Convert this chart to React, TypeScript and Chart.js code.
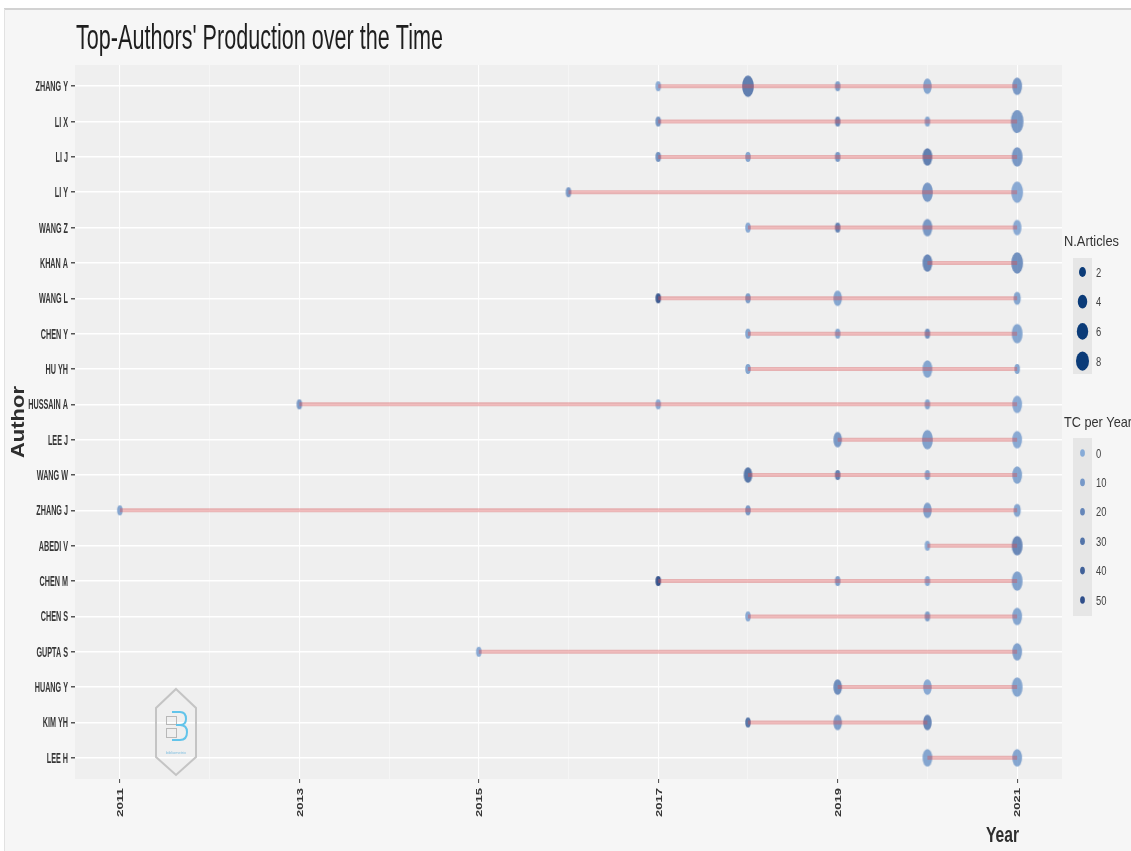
import React, { useEffect, useRef } from "react";
import { Chart, registerables } from "chart.js";

Chart.register(...registerables);

const authors = [
  "ZHANG Y", "LI X", "LI J", "LI Y", "WANG Z", "KHAN A", "WANG L", "CHEN Y", "HU YH", "HUSSAIN A",
  "LEE J", "WANG W", "ZHANG J", "ABEDI V", "CHEN M", "CHEN S", "GUPTA S", "HUANG Y", "KIM YH", "LEE H",
];

const years: number[][] = [
  [2017, 2018, 2019, 2020, 2021],
  [2017, 2019, 2020, 2021],
  [2017, 2018, 2019, 2020, 2021],
  [2016, 2020, 2021],
  [2018, 2019, 2020, 2021],
  [2020, 2021],
  [2017, 2018, 2019, 2021],
  [2018, 2019, 2020, 2021],
  [2018, 2020, 2021],
  [2013, 2017, 2020, 2021],
  [2019, 2020, 2021],
  [2018, 2019, 2020, 2021],
  [2011, 2018, 2020, 2021],
  [2020, 2021],
  [2017, 2019, 2020, 2021],
  [2018, 2020, 2021],
  [2015, 2021],
  [2019, 2020, 2021],
  [2018, 2019, 2020],
  [2020, 2021],
];

const articles: number[][] = [
  [1, 6, 1, 3, 4],
  [1, 1, 1, 7],
  [1, 1, 1, 4, 5],
  [1, 5, 6],
  [1, 1, 4, 3],
  [4, 6],
  [1, 1, 3, 2],
  [1, 1, 1, 5],
  [1, 4, 1],
  [1, 1, 1, 4],
  [3, 5, 4],
  [3, 1, 1, 4],
  [1, 1, 3, 2],
  [1, 5],
  [1, 1, 1, 5],
  [1, 1, 4],
  [1, 4],
  [3, 3, 5],
  [1, 3, 3],
  [4, 4],
];

const tcPerYear: number[][] = [
  [5, 30, 12, 8, 15],
  [18, 25, 8, 15],
  [20, 8, 15, 30, 15],
  [15, 15, 5],
  [5, 28, 15, 5],
  [25, 20],
  [52, 12, 8, 8],
  [8, 8, 20, 8],
  [8, 8, 8],
  [15, 5, 8, 5],
  [15, 10, 5],
  [35, 30, 8, 8],
  [8, 15, 10, 8],
  [5, 25],
  [55, 12, 5, 10],
  [5, 12, 8],
  [5, 10],
  [22, 5, 8],
  [35, 12, 25],
  [8, 8],
];

const xTickYears = [2011, 2012, 2013, 2014, 2015, 2016, 2017, 2018, 2019, 2020, 2021];
const sizeBreaks = [2, 4, 6, 8];
const tcBreaks = [0, 10, 20, 30, 40, 50];

const FONT = "'Liberation Sans', Arial, sans-serif";
const LOW = [118, 160, 212];
const HIGH = [4, 40, 112];

function tcColor(tc: number, alpha: number) {
  const t = Math.max(0, Math.min(1, tc / 55));
  const c = LOW.map((l, k) => Math.round(l + (HIGH[k] - l) * t));
  return `rgba(${c[0]},${c[1]},${c[2]},${alpha})`;
}

function ellipseH(n: number) {
  return Math.sqrt(28.5 + 71.5 * n);
}

function makeEllipse(h: number, w: number, color: string) {
  const c = document.createElement("canvas");
  c.width = Math.ceil(w) + 2;
  c.height = Math.ceil(h) + 2;
  const g = c.getContext("2d")!;
  g.fillStyle = color;
  g.beginPath();
  g.ellipse(c.width / 2, c.height / 2, w / 2, h / 2, 0, 0, Math.PI * 2);
  g.fill();
  return c;
}

function txt(
  ctx: CanvasRenderingContext2D,
  s: string,
  x: number,
  y: number,
  o: { cap: number; weight?: string; color: string; sx?: number; width?: number; align?: CanvasTextAlign; rot?: number }
) {
  ctx.save();
  const size = o.cap / 0.716;
  ctx.font = `${o.weight || "normal"} ${size}px ${FONT}`;
  let sx = o.sx ?? 1;
  if (o.width) sx = o.width / ctx.measureText(s).width;
  ctx.translate(x, y);
  if (o.rot) ctx.rotate(o.rot);
  ctx.scale(sx, 1);
  ctx.textAlign = o.align || "left";
  ctx.textBaseline = "alphabetic";
  ctx.fillStyle = o.color;
  ctx.fillText(s, 0, 0);
  ctx.restore();
}

const decorPlugin = {
  id: "decor",
  beforeDraw(chart: any) {
    const ctx = chart.ctx as CanvasRenderingContext2D;
    const { left, right, top, bottom } = chart.chartArea;
    ctx.save();
    ctx.fillStyle = "#ffffff";
    ctx.fillRect(0, 0, chart.width, chart.height);
    ctx.fillStyle = "#f6f6f6";
    ctx.fillRect(4, 9, chart.width - 4, chart.height - 9);
    ctx.strokeStyle = "#d2d2d2";
    ctx.lineWidth = 2;
    ctx.beginPath();
    ctx.moveTo(4, 9);
    ctx.lineTo(chart.width, 9);
    ctx.stroke();
    ctx.strokeStyle = "#e2e2e2";
    ctx.lineWidth = 1;
    ctx.beginPath();
    ctx.moveTo(4.5, 9);
    ctx.lineTo(4.5, chart.height);
    ctx.stroke();
    ctx.fillStyle = "#efefef";
    ctx.fillRect(left, top, right - left, bottom - top);
    ctx.restore();
  },
  afterDatasetsDraw(chart: any) {
    // logo
    const ctx = chart.ctx as CanvasRenderingContext2D;
    ctx.save();
    ctx.strokeStyle = "#c4c4c4";
    ctx.lineWidth = 2;
    ctx.beginPath();
    ctx.moveTo(176, 689);
    ctx.lineTo(196, 708);
    ctx.lineTo(196, 757);
    ctx.lineTo(176, 775);
    ctx.lineTo(156, 757);
    ctx.lineTo(156, 708);
    ctx.closePath();
    ctx.stroke();
    ctx.strokeStyle = "#b8b8b8";
    ctx.lineWidth = 1;
    ctx.strokeRect(166.5, 716.5, 10, 8);
    ctx.strokeRect(166.5, 728.5, 10, 9);
    ctx.strokeStyle = "#62c4ea";
    ctx.lineWidth = 2;
    ctx.beginPath();
    ctx.moveTo(172, 712);
    ctx.lineTo(180, 712);
    ctx.quadraticCurveTo(186, 712, 186, 719);
    ctx.quadraticCurveTo(186, 725, 180, 725);
    ctx.lineTo(176, 725);
    ctx.moveTo(180, 725);
    ctx.quadraticCurveTo(187, 725, 187, 732);
    ctx.quadraticCurveTo(187, 740, 180, 740);
    ctx.lineTo(172, 740);
    ctx.stroke();
    ctx.restore();
    txt(ctx, "bibliometrix", 176, 754, { cap: 3, color: "#7fbfe0", width: 20, align: "center" });
  },
  afterDraw(chart: any) {
    const ctx = chart.ctx as CanvasRenderingContext2D;
    const xs = chart.scales.x;
    const ys = chart.scales.y;
    const { top, bottom } = chart.chartArea;

    // title
    txt(ctx, "Top-Authors' Production over the Time", 76, 49, { cap: 25, color: "#1e1e1e", width: 367 });

    // y tick labels
    ctx.save();
    ctx.font = `bold ${10 / 0.716}px ${FONT}`;
    const sxY = 32.5 / ctx.measureText("ZHANG Y").width;
    ctx.restore();
    authors.forEach((a, i) => {
      const py = ys.getPixelForValue(i);
      txt(ctx, a, 68, py + 5, { cap: 10, weight: "bold", color: "#363636", sx: sxY, align: "right" });
    });

    // x tick labels
    xTickYears.forEach((yr) => {
      if (yr % 2 !== 1) return;
      const px = xs.getPixelForValue(yr);
      txt(ctx, String(yr), px + 3.3, bottom + 9, {
        cap: 6.6, weight: "bold", color: "#363636", width: 29, align: "right", rot: -Math.PI / 2,
      });
    });

    // axis titles
    txt(ctx, "Year", 1019, 842, { cap: 16, weight: "bold", color: "#2e2e2e", width: 33, align: "right" });
    txt(ctx, "Author", 23.5, (top + bottom) / 2, {
      cap: 13, weight: "bold", color: "#2e2e2e", width: 72, align: "center", rot: -Math.PI / 2,
    });

    // legend: N.Articles
    txt(ctx, "N.Articles", 1064, 246, { cap: 10, color: "#333333", width: 55 });
    ctx.save();
    ctx.fillStyle = "#e6e6e6";
    ctx.fillRect(1073, 258, 19, 116);
    ctx.restore();
    sizeBreaks.forEach((n, i) => {
      const cy = 272 + i * 29.7;
      const h = ellipseH(n) * 0.78;
      const w = h * 0.68;
      ctx.save();
      ctx.fillStyle = "#0b3b78";
      ctx.beginPath();
      ctx.ellipse(1082.5, cy, w / 2, h / 2, 0, 0, Math.PI * 2);
      ctx.fill();
      ctx.restore();
      txt(ctx, String(n), 1096, cy + 4.5, { cap: 9, color: "#444444", sx: 0.75 });
    });

    // legend: TC per Year
    txt(ctx, "TC per Year", 1064, 427, { cap: 10, color: "#333333", width: 68 });
    ctx.save();
    ctx.fillStyle = "#e6e6e6";
    ctx.fillRect(1073, 438, 19, 178);
    ctx.restore();
    tcBreaks.forEach((t, i) => {
      const cy = 453 + i * 29.4;
      ctx.save();
      ctx.fillStyle = tcColor(t, 0.85);
      ctx.beginPath();
      ctx.ellipse(1082.5, cy, 2.4, 3.8, 0, 0, Math.PI * 2);
      ctx.fill();
      ctx.restore();
      txt(ctx, String(t), 1096, cy + 4.5, { cap: 9, color: "#444444", sx: 0.75 });
    });
  },
};

export default function App() {
  const ref = useRef<HTMLCanvasElement | null>(null);

  useEffect(() => {
    if (!ref.current) return;
    const pointData: { x: number; y: number }[] = [];
    const pointImgs: HTMLCanvasElement[] = [];
    authors.forEach((_, i) => {
      years[i].forEach((yr, j) => {
        pointData.push({ x: yr, y: i });
        const h = ellipseH(articles[i][j]);
        pointImgs.push(makeEllipse(h, h * 0.55, tcColor(tcPerYear[i][j], 0.78)));
      });
    });

    const lineSets = authors.map((a, i) => ({
      label: a,
      data: [
        { x: Math.min(...years[i]), y: i },
        { x: Math.max(...years[i]), y: i },
      ],
      showLine: true,
      borderColor: "rgba(215,75,80,0.38)",
      borderWidth: 4,
      borderCapStyle: "butt",
      pointRadius: 0,
      order: 1,
    }));

    const isOdd = (c: any) => c.tick && Math.round(c.tick.value) % 2 === 1;

    const chart = new Chart(ref.current, {
      type: "scatter",
      data: {
        datasets: [
          {
            label: "points",
            data: pointData,
            pointStyle: (c: any) => pointImgs[c.dataIndex],
            pointRadius: 6,
            order: 2,
          } as any,
          ...(lineSets as any[]),
        ],
      },
      plugins: [decorPlugin as any],
      options: {
        animation: false,
        responsive: false,
        devicePixelRatio: 1,
        layout: { padding: { top: 65, right: 69, left: 0, bottom: 0 } },
        plugins: { legend: { display: false }, tooltip: { enabled: false }, title: { display: false } },
        scales: {
          x: {
            type: "linear",
            min: 2010.5,
            max: 2021.5,
            afterBuildTicks: (s: any) => {
              s.ticks = xTickYears.map((v) => ({ value: v }));
            },
            afterFit: (s: any) => {
              s.height = 72;
            },
            ticks: { autoSkip: false, callback: () => "", maxRotation: 0 },
            grid: {
              color: (c: any) => (isOdd(c) ? "rgba(255,255,255,0.9)" : "rgba(255,255,255,0.55)"),
              lineWidth: (c: any) => (isOdd(c) ? 1.1 : 0.7),
              tickColor: (c: any) => (isOdd(c) ? "#555555" : "rgba(0,0,0,0)"),
              tickLength: 4,
            },
            border: { display: false },
          },
          y: {
            type: "linear",
            reverse: true,
            min: -0.6,
            max: 19.6,
            afterBuildTicks: (s: any) => {
              s.ticks = authors.map((_, i) => ({ value: i }));
            },
            afterFit: (s: any) => {
              s.width = 75;
            },
            ticks: { autoSkip: false, callback: () => "" },
            grid: { color: "#ffffff", lineWidth: 1.5, tickColor: "#555555", tickLength: 4 },
            border: { display: false },
          },
        },
      } as any,
    });
    return () => chart.destroy();
  }, []);

  return (
    <div style={{ position: "fixed", left: 0, top: 0, width: 1131, height: 851, background: "#ffffff" }}>
      <canvas ref={ref} width={1131} height={851} style={{ display: "block", width: 1131, height: 851 }} />
    </div>
  );
}
